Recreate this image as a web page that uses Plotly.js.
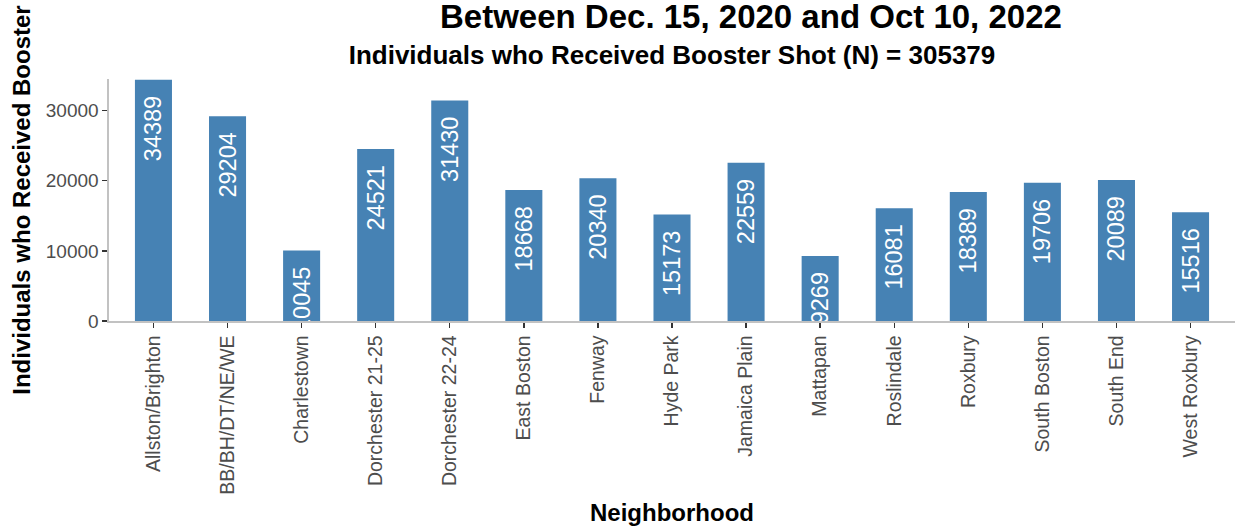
<!DOCTYPE html>
<html>
<head>
<meta charset="utf-8">
<script src="https://cdn.plot.ly/plotly-3.0.1.min.js"></script>
<style>
  html, body { margin: 0; padding: 0; background: #ffffff; }
  #chart { width: 1235px; height: 529px; }
</style>
</head>
<body>
<div id="chart"></div>
<script>
const neighborhoods = [
  "Allston/Brighton", "BB/BH/DT/NE/WE", "Charlestown", "Dorchester 21-25",
  "Dorchester 22-24", "East Boston", "Fenway", "Hyde Park", "Jamaica Plain",
  "Mattapan", "Roslindale", "Roxbury", "South Boston", "South End", "West Roxbury"
];
const boosterCounts = [
  34389, 29204, 10045, 24521, 31430, 18668, 20340, 15173, 22559,
  9269, 16081, 18389, 19706, 20089, 15516
];
const titleLine1 = "Between Dec. 15, 2020 and Oct 10, 2022";
const titleLine2 = "Individuals who Received Booster Shot (N) = 305379";
const xTitle = "Neighborhood";
const yTitle = "Individuals who Received Booster";
const yTickValues = [0, 10000, 20000, 30000];

const FONT = "'Liberation Sans', Arial, Helvetica, sans-serif";
const NBSP = "\u00a0";

const trace = {
  type: "bar",
  x: neighborhoods,
  y: boosterCounts,
  marker: { color: "#4682B4", line: { width: 0 } },
  width: 0.5,
  text: boosterCounts.map(v => String(v) + NBSP + NBSP),
  textposition: "inside",
  insidetextanchor: "end",
  textangle: -90,
  constraintext: "none",
  insidetextfont: { family: FONT, size: 23.5, color: "#ffffff" },
  cliponaxis: true,
  hoverinfo: "x+y"
};

const layout = {
  width: 1235,
  height: 529,
  autosize: false,
  margin: { l: 109, r: 0, t: 79, b: 208, pad: 0 },
  paper_bgcolor: "#ffffff",
  plot_bgcolor: "#ffffff",
  showlegend: false,
  font: { family: FONT, color: "#000000" },
  title: {
    text: "<b>" + titleLine2 + "</b>",
    font: { family: FONT, size: 26, color: "#000000" },
    xref: "paper", x: 0.5, xanchor: "center",
    yref: "container", y: 1 - 55 / 529, yanchor: "middle"
  },
  annotations: [{
    text: "<b>" + titleLine1 + "</b>",
    font: { family: FONT, size: 33, color: "#000000" },
    xref: "paper", x: (751 - 109) / 1126, xanchor: "center",
    yref: "paper", y: 1 + (79 - 17) / 242, yanchor: "middle",
    showarrow: false
  }],
  xaxis: {
    type: "category",
    range: [-0.6, 14.6],
    showline: true, linecolor: "#C2C2C2", linewidth: 1.6,
    ticks: "outside", ticklen: 5, tickwidth: 1.4, tickcolor: "#333333",
    tickangle: -90,
    tickfont: { family: FONT, size: 19.5, color: "#4D4D4D" },
    showgrid: false, zeroline: false, fixedrange: true,
    title: { text: "<b>" + xTitle + "</b>", font: { family: FONT, size: 24, color: "#000000" }, standoff: 10 }
  },
  yaxis: {
    range: [0, 34500],
    tickvals: yTickValues,
    ticktext: yTickValues.map(String),
    showline: true, linecolor: "#C2C2C2", linewidth: 1.6,
    ticks: "outside", ticklen: 5, tickwidth: 1.4, tickcolor: "#333333",
    tickfont: { family: FONT, size: 19, color: "#4D4D4D" },
    showgrid: false, zeroline: false, fixedrange: true,
    title: { text: "<b>" + yTitle + "</b>", font: { family: FONT, size: 24, color: "#000000" }, standoff: 8 }
  },
  bargap: 0.5
};

Plotly.newPlot("chart", [trace], layout, { displayModeBar: false, staticPlot: true });
</script>
</body>
</html>
